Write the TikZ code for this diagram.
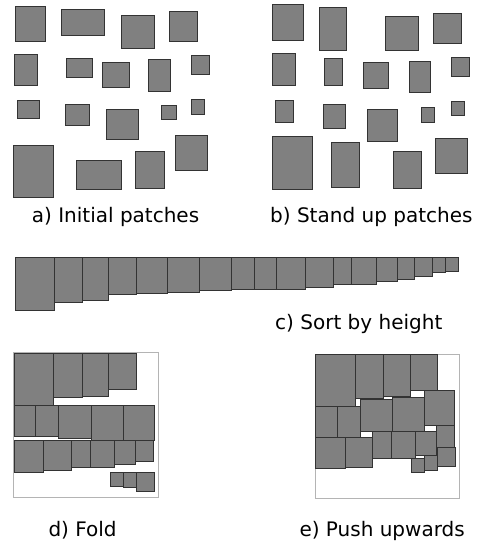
\documentclass[tikz,border=0pt]{standalone}
\usepackage{fontspec}
\setmainfont{DejaVu Sans}
\usepackage{xcolor}
\usepackage{tikz}
\definecolor{patchfill}{HTML}{808080}
\definecolor{patchdraw}{HTML}{333333}
\definecolor{framedraw}{HTML}{B4B4B4}
\tikzset{
  patch/.style={draw=patchdraw, fill=patchfill, line width=0.8pt},
  binframe/.style={draw=framedraw, line width=1pt},
  panellabel/.style={anchor=base west, inner sep=0pt, font=\fontsize{20}{24}\selectfont},
}

\begin{document}
\begin{tikzpicture}[x=1pt, y=-1pt]
  \useasboundingbox (0,0) rectangle (477,541);

  % a) initial patches
  \foreach \xa/\ya/\xb/\yb in {15/6/45.7/41.7, 61.7/9.3/104.7/35.7, 121.7/15/154.7/48.3, 169.3/11.7/197.3/41.7,
      14.3/54.3/37.7/85.3, 66/58.7/92.7/77, 102.7/62/129.7/87, 148.7/59.3/170.7/91, 191.3/55.3/209/74.7,
      17.3/100.3/39.3/118.3, 65/104/89.3/125.7, 106.7/109.3/138.7/139.7, 161/105.3/176.3/119, 191.3/99.7/204.7/114.3,
      13.3/145.3/53/197.3, 76.3/160/121.3/189, 135.3/151.7/164/188.3, 175/135/207.3/170}
    \draw[patch] (\xa,\ya) rectangle (\xb,\yb);
  \node[panellabel] (capa) at (31.7,222.5) {a) Initial patches};

  % b) stand up patches
  \foreach \xa/\ya/\xb/\yb in {272.3/4.3/303.3/40, 319/7.3/346/50.7, 385.7/16.7/418.7/50, 433.3/13.3/461.3/43.3,
      272.3/53.7/295.7/85.3, 324.3/58.7/342.3/85.3, 363.7/62/388.7/88.7, 409/61/430.7/92.3, 451.3/57.3/469/76.3,
      275.7/100.7/293.7/122.3, 323.3/104/345/128, 367.7/109.3/397.7/141.3, 421/107/434.7/122.3, 451.3/101/464.7/115.7,
      272.3/136.7/312.3/189, 331/142.3/359.7/187.3, 393.3/151.7/421.3/188.3, 435/138.3/467.3/173.3}
    \draw[patch] (\xa,\ya) rectangle (\xb,\yb);
  \node[panellabel] (capb) at (270,222.5) {b) Stand up patches};

  % c) sorted strip, all hanging from one top line
  \foreach \xa/\xb/\yb in {15/54/310, 54/82.7/302.3, 82.7/108.7/300.7, 108.7/136.3/294.3, 136.3/167/293.3,
      167/199/292.3, 199/231.7/290.7, 231.7/254.3/289.3, 254.3/276.3/289.3, 276.3/305.3/289.3,
      305.3/333.3/287.3, 333.3/351/284.7, 351/376.3/284.7, 376.3/397.3/281.7, 397.3/414.7/279.3,
      414.7/432/276.3, 432/445/272.7, 445/458.3/271.7}
    \draw[patch] (\xa,257.3) rectangle (\xb,\yb);
  \node[panellabel] (capc) at (275,329) {c) Sort by height};

  % d) fold
  \draw[binframe] (13.3,352.3) rectangle (158.3,497.7);
  \foreach \xa/\ya/\xb/\yb in {14/353.3/53.3/405, 53.3/353.3/82.7/397.7, 82.7/353.3/108.7/396.3, 108.7/353.3/136.7/389.3,
      14/405.3/35.7/436.7, 35.7/405.3/58.7/436.7, 58.7/405.3/91.3/438.3, 91.3/405.3/123.3/440, 123.3/405.3/154/440.7,
      14/440.7/43.7/472, 43.7/440.7/71.7/470.3, 71.7/440.7/90/467, 90/440.7/114.7/467, 114.7/440.7/135.7/464.3,
      135.7/440.7/153.3/461.3,
      110.3/472.7/123.3/486.7, 123.3/472.7/136.3/487.3, 136.3/472.7/154/491.7}
    \draw[patch] (\xa,\ya) rectangle (\xb,\yb);
  \node[panellabel] (capd) at (48.3,536.7) {d) Fold};

  % e) push upwards
  \draw[binframe] (315,354) rectangle (459.3,498.3);
  \foreach \xa/\ya/\xb/\yb in {315.7/354.7/355/406, 355/354.7/383.3/398.3, 383.3/354.7/410/396.7, 410/354.7/437.3/390,
      424.3/390.7/454.3/425.7, 392.3/397.3/424.3/431.7, 360/399/392.3/431.7, 337/406.7/360/437.3, 315.7/406.7/337/437.3,
      315.7/437.3/345/468.7, 345/437.3/372.7/467.3, 372.7/431.7/391/458.3, 391/431.7/415.7/458.3,
      415.7/431.7/436.7/455.7, 436.7/425.7/454.3/447.3,
      437.7/447.3/455/466.7, 424.3/455.7/437.7/470.7, 411.3/458.3/424.3/472.3}
    \draw[patch] (\xa,\ya) rectangle (\xb,\yb);
  \node[panellabel] (cape) at (299.3,536.7) {e) Push upwards};
\end{tikzpicture}
\end{document}
